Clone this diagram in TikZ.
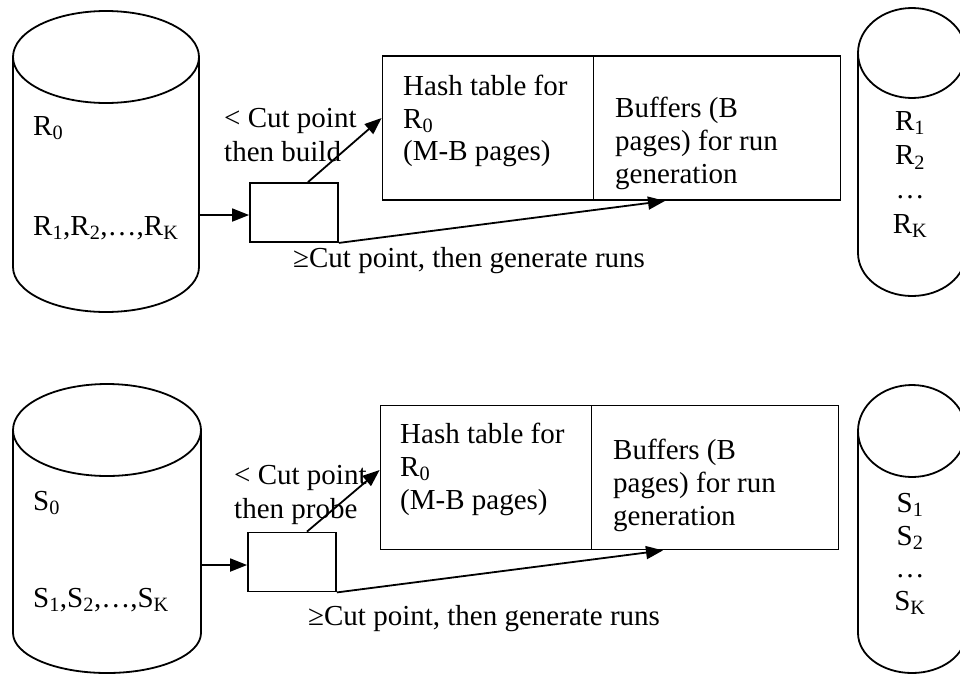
\documentclass[tikz,border=0pt]{standalone}
\usepackage{fontspec}
\setmainfont{Liberation Serif}
\usetikzlibrary{arrows.meta}
\tikzstyle{disk} = [draw, line width=1.8pt]
\tikzstyle{splitter} = [rectangle, 
draw, line width=1.8pt, 
minimum width=88pt, 
minimum height=59pt, 
inner sep=0pt]
\tikzstyle{hashbox} = [rectangle, 
draw, line width=1.8pt, 
minimum width=211pt, 
minimum height=144pt, 
inner sep=0pt]
\tikzstyle{bufbox} = [rectangle, 
draw, line width=1.8pt, 
minimum width=247pt, 
minimum height=144pt, 
inner sep=0pt]
\tikzstyle{txt} = [anchor=base west, inner sep=0pt]
\tikzstyle{runs} = [anchor=base, inner sep=0pt]
\tikzstyle{arrow} = [line width=1.8pt, -{Triangle[length=17pt, width=13pt]}]

\begin{document}
\begin{tikzpicture}[x=1pt, y=-1pt, font=\fontsize{29}{33}\selectfont]
\useasboundingbox (0,0) rectangle (960,675);
\clip (0,0) rectangle (960,675);

% build phase (R)
\draw [disk] (106,57) ellipse [x radius=93, y radius=46];
\draw [disk] (13,57) -- (13,267) arc [start angle=180, end angle=0, x radius=93, y radius=45] -- (199,57);
\draw [disk] (912,53) ellipse [x radius=54, y radius=45];
\draw [disk] (858,53) -- (858,253) arc [start angle=180, end angle=0, x radius=54, y radius=43] -- (966,53);
\coordinate (rout) at (199,215);

\node (r0) [txt] at (33,135) {R\textsubscript{0}};
\node (rrest) [txt] at (33,235) {R\textsubscript{1},R\textsubscript{2},…,R\textsubscript{K}};
\node (sel1) [splitter] at (294,212.5) {};
\node (hash1) [hashbox] at (488,128) {};
\node (buf1) [bufbox] at (717,128) {};

\node (hashtxt1a) [txt] at (403,95) {Hash table for};
\node (hashtxt1b) [txt] at (403,128) {R\textsubscript{0}};
\node (hashtxt1c) [txt] at (403,160) {(M-B pages)};
\node (buftxt1a) [txt] at (615,117) {Buffers (B};
\node (buftxt1b) [txt] at (615,150) {pages) for run};
\node (buftxt1c) [txt] at (615,183) {generation};
\node (cut1a) [txt] at (224,127) {< Cut point};
\node (cut1b) [txt] at (224,161) {then build};
\node (gen1) [txt] at (293,267) {≥Cut point, then generate runs};

\node (rrun1) [runs] at (910,130) {R\textsubscript{1}};
\node (rrun2) [runs] at (910,164.5) {R\textsubscript{2}};
\node (rrun3) [runs] at (910,198) {…};
\node (rrunk) [runs] at (910,233) {R\textsubscript{K}};

\draw [arrow] (rout) -- (rout -| sel1.west);
\draw [arrow] ([xshift=14pt]sel1.north) -- ([yshift=10pt]hash1.west);
\draw [arrow] (sel1.south east) -- ([xshift=-52pt]buf1.south);

% probe phase (S)
\draw [disk] (107,430) ellipse [x radius=94, y radius=46];
\draw [disk] (13,430) -- (13,633) arc [start angle=180, end angle=0, x radius=94, y radius=40] -- (201,430);
\draw [disk] (912,431) ellipse [x radius=54, y radius=46];
\draw [disk] (858,431) -- (858,633) arc [start angle=180, end angle=0, x radius=54, y radius=40] -- (966,431);
\coordinate (sout) at (201,565);

\node (s0) [txt] at (33,510) {S\textsubscript{0}};
\node (srest) [txt] at (33,607) {S\textsubscript{1},S\textsubscript{2},…,S\textsubscript{K}};
\node (sel2) [splitter] at (292,562) {};
\node (hash2) [hashbox] at (486,477.5) {};
\node (buf2) [bufbox] at (715,477.5) {};

\node (hashtxt2a) [txt] at (400,443) {Hash table for};
\node (hashtxt2b) [txt] at (400,476) {R\textsubscript{0}};
\node (hashtxt2c) [txt] at (400,509) {(M-B pages)};
\node (buftxt2a) [txt] at (613,459) {Buffers (B};
\node (buftxt2b) [txt] at (613,492) {pages) for run};
\node (buftxt2c) [txt] at (613,525) {generation};
\node (cut2a) [txt] at (234,484) {< Cut point};
\node (cut2b) [txt] at (234,518) {then probe};
\node (gen2) [txt] at (308,625) {≥Cut point, then generate runs};

\node (srun1) [runs] at (910,512) {S\textsubscript{1}};
\node (srun2) [runs] at (910,545) {S\textsubscript{2}};
\node (srun3) [runs] at (910,577) {…};
\node (srunk) [runs] at (910,610) {S\textsubscript{K}};

\draw [arrow] (sout) -- (sout -| sel2.west);
\draw [arrow] ([xshift=15pt]sel2.north) -- ([yshift=7.5pt]hash2.west);
\draw [arrow] (sel2.south east) -- ([xshift=-52pt]buf2.south);

\end{tikzpicture}
\end{document}
